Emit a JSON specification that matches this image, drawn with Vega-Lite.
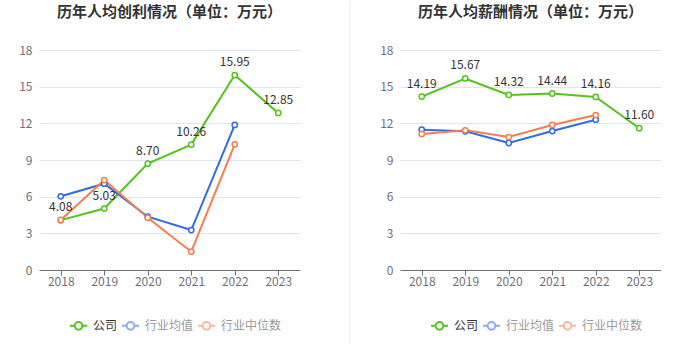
{
  "$schema": "https://vega.github.io/schema/vega-lite/v6.json",
  "padding": {"left": 18, "top": 0, "right": 0, "bottom": 0},
  "background": "white",
  "spacing": 28,
  "datasets": {
    "profit": [
      {"year": "2018", "series": "公司", "value": 4.08},
      {"year": "2019", "series": "公司", "value": 5.03},
      {"year": "2020", "series": "公司", "value": 8.70},
      {"year": "2021", "series": "公司", "value": 10.26},
      {"year": "2022", "series": "公司", "value": 15.95},
      {"year": "2023", "series": "公司", "value": 12.85},
      {"year": "2018", "series": "行业均值", "value": 6.03},
      {"year": "2019", "series": "行业均值", "value": 7.06},
      {"year": "2020", "series": "行业均值", "value": 4.36},
      {"year": "2021", "series": "行业均值", "value": 3.27},
      {"year": "2022", "series": "行业均值", "value": 11.87},
      {"year": "2018", "series": "行业中位数", "value": 4.09},
      {"year": "2019", "series": "行业中位数", "value": 7.36},
      {"year": "2020", "series": "行业中位数", "value": 4.28},
      {"year": "2021", "series": "行业中位数", "value": 1.50},
      {"year": "2022", "series": "行业中位数", "value": 10.28}
    ],
    "salary": [
      {"year": "2018", "series": "公司", "value": 14.19},
      {"year": "2019", "series": "公司", "value": 15.67},
      {"year": "2020", "series": "公司", "value": 14.32},
      {"year": "2021", "series": "公司", "value": 14.44},
      {"year": "2022", "series": "公司", "value": 14.16},
      {"year": "2023", "series": "公司", "value": 11.60},
      {"year": "2018", "series": "行业均值", "value": 11.48},
      {"year": "2019", "series": "行业均值", "value": 11.35},
      {"year": "2020", "series": "行业均值", "value": 10.39},
      {"year": "2021", "series": "行业均值", "value": 11.37},
      {"year": "2022", "series": "行业均值", "value": 12.30},
      {"year": "2018", "series": "行业中位数", "value": 11.13},
      {"year": "2019", "series": "行业中位数", "value": 11.43},
      {"year": "2020", "series": "行业中位数", "value": 10.88},
      {"year": "2021", "series": "行业中位数", "value": 11.87},
      {"year": "2022", "series": "行业中位数", "value": 12.68}
    ],
    "sep": [{"x": 1, "v": -0.336, "v2": 1.223}]
  },
  "hconcat": [
    {
      "title": {"text": "历年人均创利情况（单位：万元）"},
      "width": 261,
      "height": 220,
      "data": {"name": "profit"},
      "encoding": {
        "x": {"field": "year", "type": "ordinal", "title": null, "scale": {"padding": 0.5},
              "axis": {"labelAngle": 0, "domainColor": "#6e7079", "tickColor": "#6e7079", "tickSize": 5, "labelPadding": 1, "grid": false}},
        "y": {"field": "value", "type": "quantitative", "title": null, "scale": {"domain": [0, 18], "nice": false},
              "axis": {"values": [0, 3, 6, 9, 12, 15, 18], "domain": false, "ticks": false, "labelPadding": 7, "gridColor": "#e0e6f1"}}
      },
      "layer": [
        {
          "mark": {"type": "line", "strokeWidth": 2, "point": {"filled": false, "fill": "white", "size": 28, "strokeWidth": 1.5}},
          "encoding": {
            "color": {"field": "series", "type": "nominal", "title": null,
                      "scale": {"domain": ["公司", "行业均值", "行业中位数"], "range": ["#52c41a", "#2f6ce5", "#f97c4e"]},
                      "legend": {"orient": "none", "legendX": 30, "legendY": 266, "direction": "horizontal",
                                 "symbolType": "M-1,0H-0.45M0.45,0H1M0.45,0A0.45,0.45,0,1,1,-0.45,0A0.45,0.45,0,1,1,0.45,0",
                                 "symbolSize": 289, "symbolStrokeWidth": 2, "symbolFillColor": "white", "columnPadding": 0, "labelOffset": 5,
                                 "labelFontSize": 12, "labelFont": "Noto Sans CJK SC",
                                 "encode": {"labels": {"update": {"fill": {"signal": "datum.label === '公司' ? '#333333' : '#999999'"}}},
                                            "symbols": {"update": {"opacity": {"signal": "datum.label === '公司' ? 1 : 0.55"}}}}}}
          }
        },
        {
          "transform": [{"filter": "datum.series === '公司'"}],
          "mark": {"type": "text", "dy": -13, "fontSize": 12, "color": "#333333", "font": "Noto Sans CJK SC"},
          "encoding": {"text": {"field": "value", "type": "quantitative", "format": ".2f"}}
        }
      ]
    },
    {
      "width": 22,
      "height": 220,
      "data": {"name": "sep"},
      "mark": {"type": "rule", "color": "#f0f0f0", "strokeWidth": 1.5, "clip": false},
      "encoding": {
        "x": {"field": "x", "type": "quantitative", "scale": {"domain": [0, 1]}, "axis": null},
        "y": {"field": "v", "type": "quantitative", "scale": {"domain": [0, 1], "nice": false, "zero": false}, "axis": null},
        "y2": {"field": "v2"}
      }
    },
    {
      "title": {"text": "历年人均薪酬情况（单位：万元）"},
      "width": 261,
      "height": 220,
      "data": {"name": "salary"},
      "encoding": {
        "x": {"field": "year", "type": "ordinal", "title": null, "scale": {"padding": 0.5},
              "axis": {"labelAngle": 0, "domainColor": "#6e7079", "tickColor": "#6e7079", "tickSize": 5, "labelPadding": 1, "grid": false}},
        "y": {"field": "value", "type": "quantitative", "title": null, "scale": {"domain": [0, 18], "nice": false},
              "axis": {"values": [0, 3, 6, 9, 12, 15, 18], "domain": false, "ticks": false, "labelPadding": 7, "gridColor": "#e0e6f1"}}
      },
      "layer": [
        {
          "mark": {"type": "line", "strokeWidth": 2, "point": {"filled": false, "fill": "white", "size": 28, "strokeWidth": 1.5}},
          "encoding": {
            "color": {"field": "series", "type": "nominal", "title": null,
                      "scale": {"domain": ["公司", "行业均值", "行业中位数"], "range": ["#52c41a", "#2f6ce5", "#f97c4e"]},
                      "legend": {"orient": "none", "legendX": 30, "legendY": 266, "direction": "horizontal",
                                 "symbolType": "M-1,0H-0.45M0.45,0H1M0.45,0A0.45,0.45,0,1,1,-0.45,0A0.45,0.45,0,1,1,0.45,0",
                                 "symbolSize": 289, "symbolStrokeWidth": 2, "symbolFillColor": "white", "columnPadding": 0, "labelOffset": 5,
                                 "labelFontSize": 12, "labelFont": "Noto Sans CJK SC",
                                 "encode": {"labels": {"update": {"fill": {"signal": "datum.label === '公司' ? '#333333' : '#999999'"}}},
                                            "symbols": {"update": {"opacity": {"signal": "datum.label === '公司' ? 1 : 0.55"}}}}}}
          }
        },
        {
          "transform": [{"filter": "datum.series === '公司'"}],
          "mark": {"type": "text", "dy": -13, "fontSize": 12, "color": "#333333", "font": "Noto Sans CJK SC"},
          "encoding": {"text": {"field": "value", "type": "quantitative", "format": ".2f"}}
        }
      ]
    }
  ],
  "resolve": {"legend": {"color": "independent"}, "scale": {"color": "independent"}},
  "config": {
    "view": {"stroke": null},
    "font": "Noto Sans CJK SC",
    "title": {"fontSize": 15, "fontWeight": "bold", "color": "#333333", "font": "Noto Sans CJK SC", "anchor": "middle", "frame": "group", "offset": 24},
    "axis": {"labelColor": "#6e7079", "labelFontSize": 12, "labelFont": "Noto Sans CJK SC"}
  }
}
